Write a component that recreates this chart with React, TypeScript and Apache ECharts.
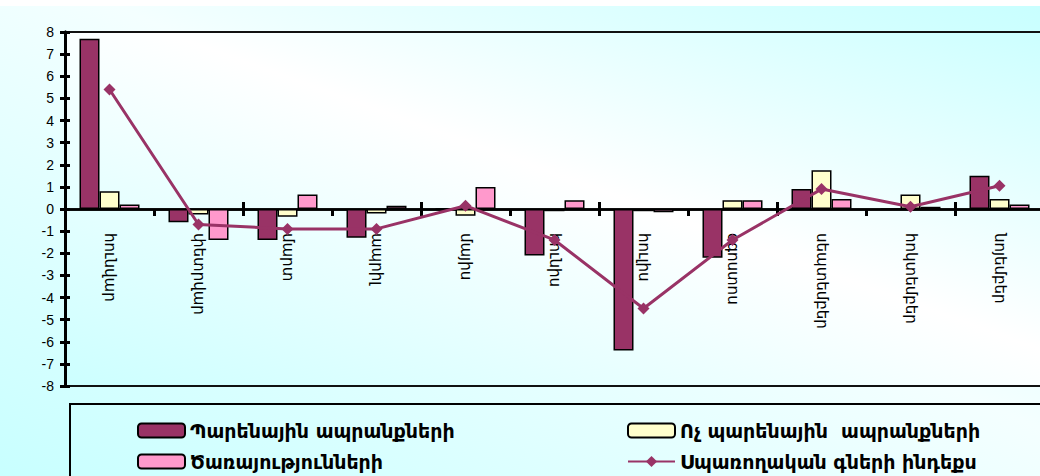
import React, { useEffect, useRef } from "react";
import * as echarts from "echarts";

const categories = [
  "հունվար",
  "փետրվար",
  "մարտ",
  "ապրիլ",
  "մայիս",
  "հունիս",
  "հուլիս",
  "օգոստոս",
  "սեպտեմբեր",
  "հոկտեմբեր",
  "նոյեմբեր",
];
const foodName = "Պարենային ապրանքների";
const nonFoodName = "Ոչ պարենային  ապրանքների";
const servicesName = "Ծառայությունների";
const cpiName = "Սպառողական գների ինդեքս";

const foodValues = [7.7, -0.6, -1.4, -1.3, 0.0, -2.1, -6.4, -2.2, 0.9, 0.0, 1.5];
const nonFoodValues = [0.8, -0.25, -0.35, -0.2, -0.3, -0.1, -0.1, 0.4, 1.75, 0.65, 0.45];
const servicesValues = [0.2, -1.4, 0.65, 0.15, 1.0, 0.4, -0.15, 0.4, 0.45, 0.1, 0.2];
const cpiValues = [5.4, -0.7, -0.9, -0.9, 0.15, -1.4, -4.5, -1.4, 0.9, 0.1, 1.05];

const yMin = -8;
const yMax = 8;
const yInterval = 1;

export default function App() {
  const ref = useRef<HTMLDivElement>(null);
  useEffect(() => {
    if (!ref.current) return;
    const chart = echarts.init(ref.current, undefined, { renderer: "svg" });
    const bg = new echarts.graphic.LinearGradient(1, 0, 0, 1, [
      { offset: 0, color: "#c8ffff" },
      { offset: 0.45, color: "#f4ffff" },
      { offset: 1, color: "#c8ffff" },
    ]);
    const plotBg = new echarts.graphic.LinearGradient(1, 0, 0, 1, [
      { offset: 0, color: "#ccffff" },
      { offset: 0.45, color: "#ffffff" },
      { offset: 1, color: "#ccffff" },
    ]);
    const barBorder = { borderColor: "#000", borderWidth: 1.5 };
    const legendText = {
      fontFamily: "DejaVu Sans",
      fontSize: 19,
      fontWeight: "bold" as const,
      color: "#000",
    };
    const legendItem = (name: string, left: number, top: number) => ({
      data: [name],
      left,
      top,
      padding: 0,
      itemWidth: 47,
      itemHeight: 14,
      itemGap: 0,
      textStyle: legendText,
    });
    chart.setOption({
      animation: false,
      backgroundColor: bg,
      graphic: [
        { type: "rect", shape: { x: 0, y: 0, width: 1040, height: 6 }, style: { fill: "#fff" }, silent: true },
        {
          type: "rect",
          shape: { x: 70, y: 404, width: 1000, height: 100 },
          style: { fill: "none", stroke: "#000", lineWidth: 2 },
          silent: true,
        },
      ],
      grid: {
        left: 65,
        top: 32,
        width: 979,
        bottom: 90,
        outerBoundsMode: "none",
        containLabel: false,
        show: true,
        backgroundColor: plotBg,
        borderColor: "#111",
        borderWidth: 2,
      },
      legend: [
        legendItem(foodName, 137, 421),
        legendItem(nonFoodName, 627, 421),
        legendItem(servicesName, 137, 452),
        legendItem(cpiName, 627, 452),
      ],
      xAxis: [
        {
          type: "category",
          data: categories,
          axisLine: { onZero: true, lineStyle: { color: "#000", width: 2.5 } },
          axisTick: { show: true, length: 7, lineStyle: { color: "#000", width: 3 } },
          axisLabel: {
            rotate: -90,
            margin: -153,
            fontFamily: "DejaVu Sans",
            fontSize: 15,
            color: "#000",
          },
        },
        {
          type: "category",
          data: categories,
          position: "top",
          axisLine: { onZero: true, lineStyle: { color: "#000", width: 2.5 } },
          axisTick: { show: true, length: 7, lineStyle: { color: "#000", width: 3 } },
          axisLabel: { show: false },
        },
      ],
      yAxis: [
        {
          type: "value",
          min: yMin,
          max: yMax,
          interval: yInterval,
          position: "left",
          splitLine: { show: false },
          axisLine: { show: true, onZero: false, lineStyle: { color: "#000", width: 3 } },
          axisTick: { show: true, length: 5, lineStyle: { color: "#000", width: 3 } },
          axisLabel: { margin: 11, fontFamily: "Liberation Sans", fontSize: 14, color: "#000" },
        },
        {
          type: "value",
          min: yMin,
          max: yMax,
          interval: yInterval,
          position: "left",
          offset: 0,
          splitLine: { show: false },
          axisLine: { show: true, onZero: false, lineStyle: { color: "#000", width: 3 } },
          axisTick: { show: true, inside: true, length: 5, lineStyle: { color: "#000", width: 3 } },
          axisLabel: { show: false },
        },
      ],
      series: [
        {
          name: foodName,
          type: "bar",
          data: foodValues,
          barWidth: 20,
          barGap: "0%",
          itemStyle: { color: "#993366", ...barBorder },
        },
        {
          name: nonFoodName,
          type: "bar",
          data: nonFoodValues,
          barWidth: 20,
          barGap: "0%",
          itemStyle: { color: "#ffffcc", ...barBorder },
        },
        {
          name: servicesName,
          type: "bar",
          data: servicesValues,
          barWidth: 20,
          barGap: "0%",
          itemStyle: { color: "#ff99cc", ...barBorder },
        },
        {
          name: cpiName,
          type: "line",
          data: cpiValues,
          symbol: "diamond",
          symbolSize: 12,
          lineStyle: { color: "#993366", width: 3 },
          itemStyle: { color: "#993366" },
          z: 5,
        },
      ],
    });
    return () => chart.dispose();
  }, []);
  return (
    <div
      ref={ref}
      style={{ position: "fixed", left: 0, top: 0, width: 1040, height: 476 }}
    />
  );
}
